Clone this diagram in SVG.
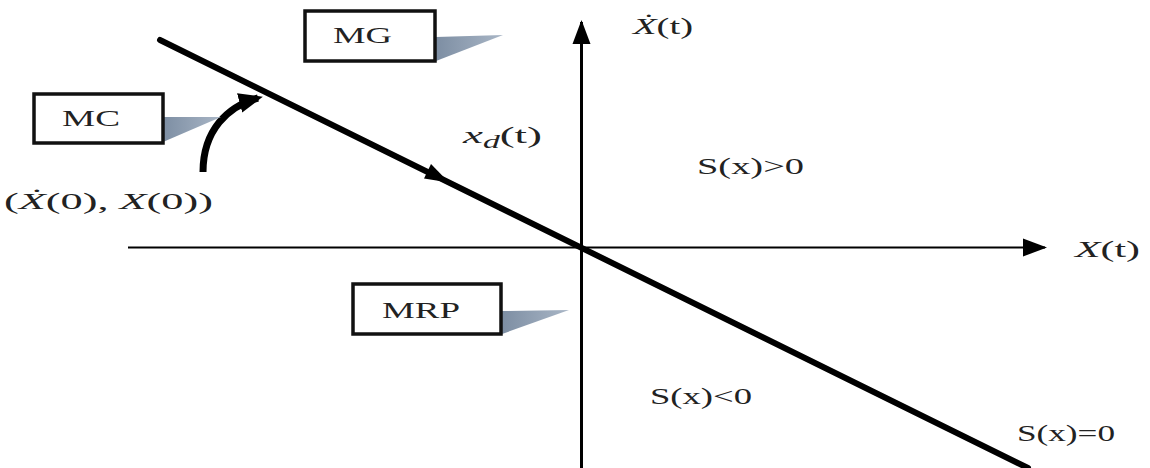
<svg xmlns="http://www.w3.org/2000/svg" width="1150" height="468" viewBox="0 0 1150 468">
<style>
.t{font-family:"Liberation Serif","Times New Roman",serif;fill:#222;font-size:24px}
.i{font-style:italic}
.box{fill:#fff;stroke:#111;stroke-width:3.5}
.ax{stroke:#000;fill:none}
</style>
<defs>
<linearGradient id="sh" x1="0" y1="0" x2="1" y2="0">
<stop offset="0" stop-color="#7d8ea3"/>
<stop offset="1" stop-color="#a9b6c6"/>
</linearGradient>
<marker id="ah" markerUnits="userSpaceOnUse" markerWidth="24" markerHeight="20" refX="22" refY="10" orient="auto">
<path d="M0,1 L24,10 L0,19 Z" fill="#000"/>
</marker>
<marker id="ahc" markerUnits="userSpaceOnUse" markerWidth="24" markerHeight="22" refX="19" refY="11" orient="auto">
<path d="M0,1 L24,11 L0,21 Z" fill="#000"/>
</marker>
</defs>
<rect width="1150" height="468" fill="#fff"/>
<g id="connectors">
<line class="ax" x1="128" y1="247.5" x2="1045" y2="247.5" stroke-width="2.2" marker-end="url(#ah)"/>
<line class="ax" x1="581.5" y1="468" x2="581.5" y2="22" stroke-width="3" marker-end="url(#ah)"/>
<line class="ax" x1="160" y1="40" x2="1028" y2="468" stroke-width="6" stroke-linecap="round"/>
<polygon points="449,182.5 424,178.5 431,164" fill="#000"/>
<path class="ax" d="M203,172 C203,130 228,106 258,98" stroke-width="7" marker-end="url(#ahc)"/>
</g>
<g id="MG">
<polygon points="436,37 503,35 436,61" fill="url(#sh)"/>
<rect class="box" x="305" y="11" width="130" height="50"/>
<text class="t" x="333" y="43" textLength="59" lengthAdjust="spacingAndGlyphs">MG</text>
</g>
<g id="MC">
<polygon points="163,117 221,117 163,142" fill="url(#sh)"/>
<rect class="box" x="34" y="94" width="129" height="49"/>
<text class="t" x="62" y="126" textLength="58" lengthAdjust="spacingAndGlyphs">MC</text>
</g>
<g id="MRP">
<polygon points="502,311 569,310 502,334" fill="url(#sh)"/>
<rect class="box" x="353" y="284" width="148" height="50"/>
<text class="t" x="382" y="318" textLength="78" lengthAdjust="spacingAndGlyphs">MRP</text>
</g>
<g id="labels">
<text class="t" x="4" y="209" font-size="25" textLength="209" lengthAdjust="spacingAndGlyphs">(<tspan class="i">Ẋ</tspan>(0), <tspan class="i">X</tspan>(0))</text>
<text class="t" x="463" y="143" font-size="26" textLength="79" lengthAdjust="spacingAndGlyphs"><tspan class="i">x</tspan><tspan class="i" font-size="18" dy="5">d</tspan><tspan dy="-5">(t)</tspan></text>
<text class="t" x="633" y="34" font-size="23" textLength="60" lengthAdjust="spacingAndGlyphs"><tspan class="i">Ẋ</tspan>(t)</text>
<text class="t" x="1075" y="257" font-size="23" textLength="65" lengthAdjust="spacingAndGlyphs"><tspan class="i">X</tspan>(t)</text>
<text class="t" x="697" y="174" font-size="23" textLength="107" lengthAdjust="spacingAndGlyphs">S(x)&gt;0</text>
<text class="t" x="650" y="404" font-size="23" textLength="102" lengthAdjust="spacingAndGlyphs">S(x)&lt;0</text>
<text class="t" x="1017" y="441" font-size="23" textLength="98" lengthAdjust="spacingAndGlyphs">S(x)=0</text>
</g>
</svg>
